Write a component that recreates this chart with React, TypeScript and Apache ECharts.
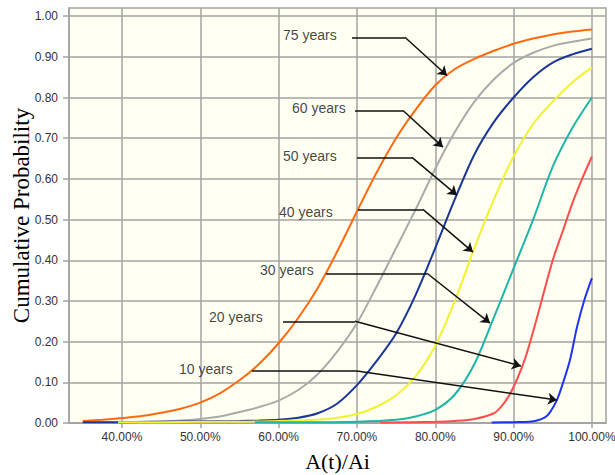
import React, { useEffect, useRef } from "react";
import * as echarts from "echarts";

const xTicks = [40, 50, 60, 70, 80, 90, 100];
const yTicks = [0, 0.1, 0.2, 0.3, 0.4, 0.5, 0.6, 0.7, 0.8, 0.9, 1.0];

const seriesNames = ["75 years", "60 years", "50 years", "40 years", "30 years", "20 years", "10 years"];
const seriesColors = ["#FF6A10", "#AAAAAA", "#1A3699", "#F2F230", "#1EB5A8", "#FF4D4D", "#1F33F0"];

const y75 = [[35,0.005],[37.5,0.008],[40,0.012],[42.5,0.017],[45,0.025],[47.5,0.035],[50,0.05],[52.5,0.073],[55,0.105],[57.5,0.145],[60,0.196],[62.5,0.258],[65,0.332],[67.5,0.422],[70,0.52],[72.5,0.615],[75,0.70],[77.5,0.77],[80,0.83],[82.5,0.87],[85,0.895],[87.5,0.915],[90,0.932],[92.5,0.945],[95,0.955],[97.5,0.962],[100,0.967]];
const y60 = [[35,0.001],[40,0.002],[45,0.004],[47.5,0.006],[50,0.01],[52.5,0.016],[55,0.027],[57.5,0.039],[60,0.055],[62.5,0.081],[65,0.12],[67.5,0.176],[70,0.245],[72.5,0.335],[75,0.43],[77.5,0.525],[80,0.625],[82.5,0.715],[85,0.79],[87.5,0.845],[90,0.885],[92.5,0.91],[95,0.927],[97.5,0.937],[100,0.945]];
const y50 = [[35,0.002],[40,0.002],[45,0.003],[50,0.004],[55,0.005],[57.5,0.006],[60,0.008],[62.5,0.013],[65,0.024],[67.5,0.048],[70,0.093],[72.5,0.152],[75,0.22],[77.5,0.315],[80,0.43],[82.5,0.55],[85,0.66],[87.5,0.74],[90,0.80],[92.5,0.85],[95,0.886],[97.5,0.906],[100,0.92]];
const y40 = [[39.5,0.002],[45,0.002],[50,0.003],[55,0.003],[60,0.005],[65,0.008],[67.5,0.013],[70,0.022],[72.5,0.04],[75,0.068],[77.5,0.115],[80,0.19],[82.5,0.30],[85,0.43],[87.5,0.55],[90,0.655],[92.5,0.735],[95,0.79],[97.5,0.837],[100,0.874]];
const y30 = [[57,0.002],[65,0.002],[70,0.003],[75,0.008],[77.5,0.016],[80,0.032],[82.5,0.07],[85,0.145],[87.5,0.26],[90,0.38],[92.5,0.50],[95,0.63],[97.5,0.725],[100,0.80]];
const y20 = [[73,0.001],[80,0.003],[82.5,0.005],[85,0.01],[87.5,0.024],[88.5,0.042],[89.5,0.07],[90.5,0.11],[91.5,0.16],[92.5,0.225],[93.5,0.295],[95,0.40],[96.25,0.47],[97.5,0.54],[98.75,0.60],[100,0.655]];
const y10 = [[87.2,0.001],[90,0.002],[92,0.003],[93,0.006],[94,0.014],[94.6,0.025],[95.5,0.055],[96.25,0.095],[97.2,0.155],[98.1,0.236],[99,0.30],[100,0.356]];
const seriesData = [y75, y60, y50, y40, y30, y20, y10];

// annotation label anchors (data coords, text left edge)
const labelPos = [[60.56,0.953],[61.71,0.773],[60.56,0.656],[60.05,0.518],[57.62,0.376],[51.11,0.26],[47.28,0.1326]];
// leader lines: start, corner, arrow tip
const leaders = [
  [[69.37,0.948],[76.13,0.948],[81.5,0.854]],
  [[69.75,0.768],[75.88,0.768],[80.99,0.678]],
  [[70.01,0.653],[77.03,0.653],[82.77,0.56]],
  [[70.13,0.525],[78.43,0.525],[84.82,0.42]],
  [[66.05,0.368],[78.94,0.368],[86.99,0.2455]],
  [[60.56,0.25],[69.75,0.25],[90.94,0.14]],
  [[56.6,0.1277],[70.01,0.1277],[95.54,0.0565]],
];

export default function App() {
  const ref = useRef<HTMLDivElement>(null);
  useEffect(() => {
    if (!ref.current) return;
    const chart = echarts.init(ref.current, undefined, { renderer: "svg" });
    const gridColor = "#A3A3A3";
    const markData: any[] = [];
    leaders.forEach((l) => {
      markData.push([
        { coord: l[0], symbol: "none" },
        { coord: l[1], symbol: "none" },
      ]);
      markData.push([
        { coord: l[1], symbol: "none" },
        { coord: l[2], symbol: "arrow" },
      ]);
    });
    const option: any = {
      animation: false,
      backgroundColor: "#FFFFFF",
      grid: {
        left: 69,
        right: 9,
        top: 8,
        bottom: 52,
        show: true,
        containLabel: false,
        outerBoundsMode: "none",
        backgroundColor: "#FFFFF2",
        borderColor: gridColor,
        borderWidth: 1.5,
      },
      xAxis: {
        type: "value",
        min: 33.24,
        max: 101.8,
        name: "A(t)/Ai",
        nameLocation: "middle",
        nameGap: 27,
        nameMoveOverlap: false,
        nameTextStyle: { fontFamily: "Liberation Serif", fontSize: 22, color: "#000" },
        axisLine: { show: true, lineStyle: { color: gridColor, width: 1.5 } },
        axisTick: { show: true, length: 5, customValues: xTicks, lineStyle: { color: gridColor, width: 1.5 } },
        axisLabel: {
          customValues: xTicks,
          formatter: (v: number) => v.toFixed(2) + "%",
          fontFamily: "Liberation Sans",
          fontSize: 12,
          color: "#333",
          margin: 8,
        },
        splitLine: { show: true, lineStyle: { color: gridColor, width: 1.5 } },
      },
      yAxis: {
        type: "value",
        min: 0,
        max: 1.02,
        name: "Cumulative Probability",
        nameLocation: "middle",
        nameGap: 36,
        nameMoveOverlap: false,
        nameTextStyle: { fontFamily: "Liberation Serif", fontSize: 23, color: "#000" },
        axisLine: { show: true, lineStyle: { color: gridColor, width: 1.5 } },
        axisTick: { show: true, length: 6, customValues: yTicks, lineStyle: { color: gridColor, width: 1.5 } },
        axisLabel: {
          customValues: yTicks,
          formatter: (v: number) => v.toFixed(2),
          fontFamily: "Liberation Sans",
          fontSize: 12,
          color: "#333",
          margin: 11,
        },
        splitLine: { show: true, lineStyle: { color: gridColor, width: 1.5 } },
      },
      series: [
        ...seriesData.map((d, i) => ({
          type: "line",
          name: seriesNames[i],
          data: d,
          showSymbol: false,
          smooth: 0.3,
          lineStyle: { color: seriesColors[i], width: 2 },
          itemStyle: { color: seriesColors[i] },
          silent: true,
          z: 3,
        })),
        {
          type: "scatter",
          name: "labels",
          symbolSize: 0,
          silent: true,
          z: 5,
          data: labelPos.map((p, i) => ({ value: p, name: seriesNames[i] })),
          label: {
            show: true,
            position: "inside",
            align: "left",
            verticalAlign: "middle",
            formatter: "{b}",
            fontFamily: "Liberation Sans",
            fontSize: 14,
            color: "#111",
          },
          markLine: {
            silent: true,
            symbolSize: 9,
            label: { show: false },
            lineStyle: { color: "#111", width: 1.5, type: "solid" },
            emphasis: { disabled: true },
            data: markData,
          },
        },
      ],
    };
    chart.setOption(option);
    return () => chart.dispose();
  }, []);
  return <div ref={ref} style={{ position: "fixed", left: 0, top: 0, width: 615, height: 475 }} />;
}
